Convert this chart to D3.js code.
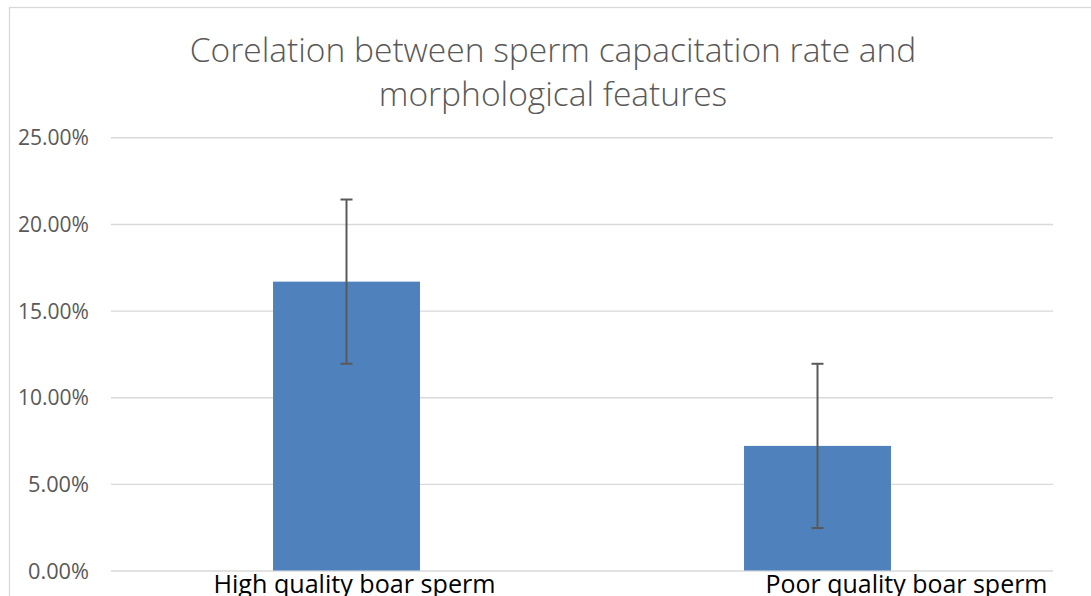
<!DOCTYPE html>
<html>
<head>
<meta charset="utf-8">
<script src="https://cdn.jsdelivr.net/npm/d3@7"></script>
<style>
  html, body { margin: 0; padding: 0; background: #fff; overflow: hidden; }
  svg { display: block; }
</style>
</head>
<body>
<div id="chart"></div>
<script>
// chart data
var categories = ["High quality boar sperm", "Poor quality boar sperm"];
var rates = [16.67, 7.19];      // percent
var errors = [4.74, 4.74];      // +/- percent
var yTicks = [0, 5, 10, 15, 20, 25];
var titleLines = ["Corelation between sperm capacitation rate and", "morphological features"];

var width = 1091, height = 596;
var plot = {left: 111, right: 1053, top: 137.3, bottom: 570.5};
var labelDx = [8, 89];   // category labels sit off-centre in the original

var svg = d3.select("#chart").append("svg")
    .attr("width", width)
    .attr("height", height);

// outer chart border
svg.append("rect")
    .attr("x", 9.5).attr("y", 7.5)
    .attr("width", width + 20).attr("height", height + 20)
    .attr("fill", "#fff")
    .attr("stroke", "#d9d9d9")
    .attr("stroke-width", 1.3);

var x = d3.scaleBand()
    .domain(categories)
    .range([plot.left, plot.right])
    .paddingInner(0.688)
    .paddingOuter(0.344);

var y = d3.scaleLinear()
    .domain([0, 25])
    .range([plot.bottom, plot.top]);

// shrink/grow a text to a given width
function fitWidth(sel, w) {
  sel.each(function() {
    var fs = parseFloat(this.getAttribute("font-size"));
    var len = this.getComputedTextLength();
    this.setAttribute("font-size", (fs * w / len).toFixed(2));
  });
}

// gridlines + y labels
var yAxis = svg.append("g")
    .attr("transform", "translate(" + plot.left + ",0)")
    .call(d3.axisLeft(y)
      .tickValues(yTicks)
      .tickSize(-(plot.right - plot.left))
      .tickPadding(22)
      .tickFormat(function(d) { return d.toFixed(2) + "%"; }));
yAxis.select(".domain").remove();
yAxis.selectAll(".tick line")
    .attr("stroke", "#d9d9d9")
    .attr("stroke-width", 1.4);
yAxis.selectAll(".tick text")
    .attr("fill", "#595959")
    .attr("font-family", "Open Sans, Noto Sans, sans-serif")
    .attr("font-size", 18)
    .attr("dy", "0.36em")
    .call(function(s) {
      s.each(function(d) {
        var w = d >= 10 ? 71 : 61;
        var fs = parseFloat(this.getAttribute("font-size"));
        this.setAttribute("font-size", (fs * w / this.getComputedTextLength()).toFixed(2));
      });
    });

// bars
svg.selectAll("rect.bar")
    .data(rates)
    .enter().append("rect")
    .attr("class", "bar")
    .attr("x", function(d, i) { return x(categories[i]); })
    .attr("width", x.bandwidth())
    .attr("y", function(d) { return y(d); })
    .attr("height", function(d) { return y(0) - y(d); })
    .attr("fill", "#4f81bd");

// error bars
var eb = svg.selectAll("g.err")
    .data(rates)
    .enter().append("g")
    .attr("class", "err")
    .attr("stroke", "#595959")
    .attr("stroke-width", 2);
var cx = function(d, i) { return x(categories[i]) + x.bandwidth() / 2; };
eb.append("line")
    .attr("x1", cx).attr("x2", cx)
    .attr("y1", function(d, i) { return y(d + errors[i]); })
    .attr("y2", function(d, i) { return y(d - errors[i]); });
[1, -1].forEach(function(sgn) {
  eb.append("line")
    .attr("x1", function(d, i) { return cx(d, i) - 6; })
    .attr("x2", function(d, i) { return cx(d, i) + 6; })
    .attr("y1", function(d, i) { return y(d + sgn * errors[i]); })
    .attr("y2", function(d, i) { return y(d + sgn * errors[i]); });
});

// category labels
svg.selectAll("text.cat")
    .data(categories)
    .enter().append("text")
    .attr("class", "cat")
    .attr("x", function(d, i) { return x(d) + x.bandwidth() / 2 + labelDx[i]; })
    .attr("y", plot.bottom + 22)
    .attr("text-anchor", "middle")
    .attr("fill", "#000")
    .attr("font-family", "Open Sans, Noto Sans, sans-serif")
    .attr("font-size", 22)
    .text(function(d) { return d; })
    .call(fitWidth, 282);

// title
svg.selectAll("text.title")
    .data(titleLines)
    .enter().append("text")
    .attr("class", "title")
    .attr("x", 553)
    .attr("y", function(d, i) { return 62 + i * 44; })
    .attr("text-anchor", "middle")
    .attr("fill", "#595959")
    .attr("font-family", "Open Sans, Noto Sans, sans-serif")
    .attr("font-weight", 300)
    .attr("font-size", 30)
    .text(function(d) { return d; });
fitWidth(svg.select("text.title"), 727);
svg.selectAll("text.title").attr("font-size", svg.select("text.title").attr("font-size"));
</script>
</body>
</html>
